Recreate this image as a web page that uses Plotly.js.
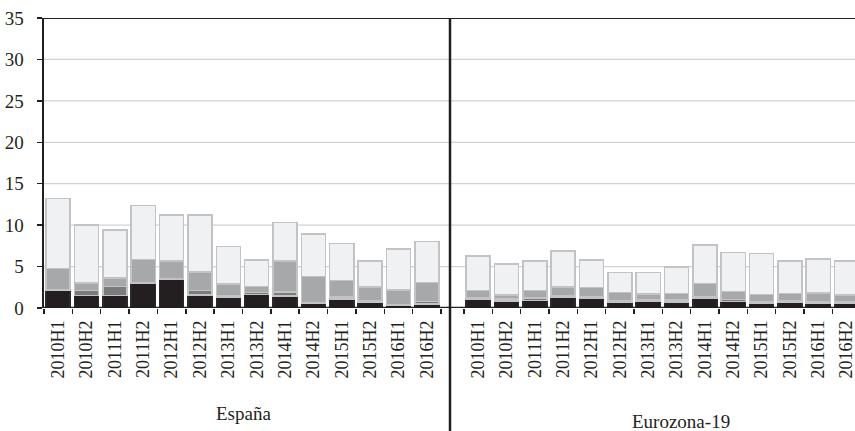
<!DOCTYPE html>
<html>
<head>
<meta charset="utf-8">
<script src="https://cdn.plot.ly/plotly-3.0.1.min.js"></script>
<style>html,body{margin:0;padding:0;background:#fff;}#chart{width:855px;height:431px;}</style>
</head>
<body>
<div id="chart"></div>
<script>
const periods = ["2010H1","2010H2","2011H1","2011H2","2012H1","2012H2","2013H1","2013H2","2014H1","2014H2","2015H1","2015H2","2016H1","2016H2"];
const groupNames = ["España", "Eurozona-19"];

const esBlack = [2.1, 1.5, 1.5, 2.95, 3.45, 1.55, 1.35, 1.65, 1.45, 0.55, 1.1, 0.7, 0.35, 0.5];
const esDark  = [0.15, 0.6, 1.1, 0.05, 0.05, 0.55, 0.1, 0.2, 0.5, 0.1, 0.2, 0.2, 0.05, 0.3];
const esGray  = [2.5, 0.9, 1.05, 2.85, 2.2, 2.25, 1.45, 0.75, 3.7, 3.15, 2.0, 1.65, 1.8, 2.25];
const esLight = [8.45, 7.0, 5.75, 6.5, 5.5, 6.85, 4.5, 3.2, 4.65, 5.15, 4.5, 3.15, 4.9, 4.95];

const ezBlack = [1.0, 0.85, 0.9, 1.3, 1.15, 0.75, 0.85, 0.75, 1.15, 0.8, 0.6, 0.65, 0.6, 0.55];
const ezDark  = [0.2, 0.25, 0.3, 0.15, 0.15, 0.15, 0.1, 0.2, 0.2, 0.2, 0.2, 0.2, 0.2, 0.2];
const ezGray  = [0.9, 0.45, 0.9, 1.1, 1.2, 0.95, 0.75, 0.8, 1.6, 1.0, 0.8, 0.9, 1.0, 0.8];
const ezLight = [4.2, 3.75, 3.6, 4.3, 3.3, 2.45, 2.6, 3.2, 4.65, 4.7, 5.0, 3.95, 4.1, 4.15];

const yTicks = [0, 5, 10, 15, 20, 25, 30, 35];

const fills = ["#231f20", "#7b7b7e", "#a7a8aa", "#f0f1f3"];
const edge = "#c3c3c5";
const ink = "#231f20";
const font = {family: "'Liberation Serif', serif", size: 19, color: ink};
const xfont = {family: "'Liberation Serif', serif", size: 18, color: ink};

function mk(vals, i, xa) {
  return {type: "bar", x: periods, y: vals, xaxis: xa, yaxis: "y",
    marker: {color: fills[i], line: {color: i === 0 ? "#2a2a2a" : edge, width: 1.5}},
    showlegend: false, hoverinfo: "skip"};
}
const traces = [];
[esBlack, esDark, esGray, esLight].forEach((v, i) => traces.push(mk(v, i, "x")));
[ezBlack, ezDark, ezGray, ezLight].forEach((v, i) => traces.push(mk(v, i, "x2")));

const W = 855, L = 44, plotW = W - L;
const esEnd = (441 - L) / plotW, ezStart = (464 - L) / plotW;
const slot = 28.34;
const ezMax = -0.5 + (W - 464) / slot;
const sepX = (450 - L) / plotW;

const shapes = [];
yTicks.filter(v => v > 0 && v < 35).forEach(v => shapes.push({type: "line", xref: "paper", yref: "y",
  x0: 0, x1: 1, y0: v, y1: v, line: {color: "#d2d2d2", width: 1.2}, layer: "below"}));
shapes.push({type: "line", xref: "paper", yref: "y", x0: 0, x1: 1, y0: 35, y1: 35, line: {color: ink, width: 2}});
shapes.push({type: "line", xref: "paper", yref: "y", x0: 0, x1: 1, y0: 0, y1: 0, line: {color: ink, width: 2.5}});
shapes.push({type: "line", xref: "paper", yref: "paper", x0: sepX, x1: sepX, y0: -0.43, y1: 1, line: {color: ink, width: 2.5}});

const xcommon = {type: "category", showgrid: false, zeroline: false, showline: false,
  ticks: "outside", tickson: "boundaries", ticklen: 5, tickwidth: 1.5, tickcolor: ink,
  tickangle: -90, tickfont: xfont, ticklabelstandoff: 8, fixedrange: true};

const layout = {
  width: 855, height: 431,
  margin: {l: L, r: 0, t: 18, b: 123, pad: 0},
  paper_bgcolor: "#ffffff", plot_bgcolor: "rgba(0,0,0,0)",
  barmode: "stack", bargap: 0.15,
  showlegend: false,
  xaxis: Object.assign({}, xcommon, {domain: [0, esEnd], anchor: "y", range: [-0.5, 13.5]}),
  xaxis2: Object.assign({}, xcommon, {domain: [ezStart, 1], anchor: "y", range: [-0.5, ezMax]}),
  yaxis: {range: [0, 35], tickvals: yTicks, ticktext: yTicks.map(String), showgrid: false, zeroline: false,
    showline: true, linecolor: ink, linewidth: 2.5, ticks: "outside", ticklen: 5, tickwidth: 1.5, tickcolor: ink,
    tickfont: font, ticklabelstandoff: 9, fixedrange: true},
  shapes: shapes,
  annotations: [
    {text: groupNames[0], xref: "paper", yref: "paper", x: (243 - L) / plotW, y: -(413 - 308) / 290,
     showarrow: false, font: font, xanchor: "center", yanchor: "middle"},
    {text: groupNames[1], xref: "paper", yref: "paper", x: (681 - L) / plotW, y: -(421 - 308) / 290,
     showarrow: false, font: font, xanchor: "center", yanchor: "middle"}
  ]
};

Plotly.newPlot("chart", traces, layout, {staticPlot: true, displayModeBar: false});
</script>
</body>
</html>
